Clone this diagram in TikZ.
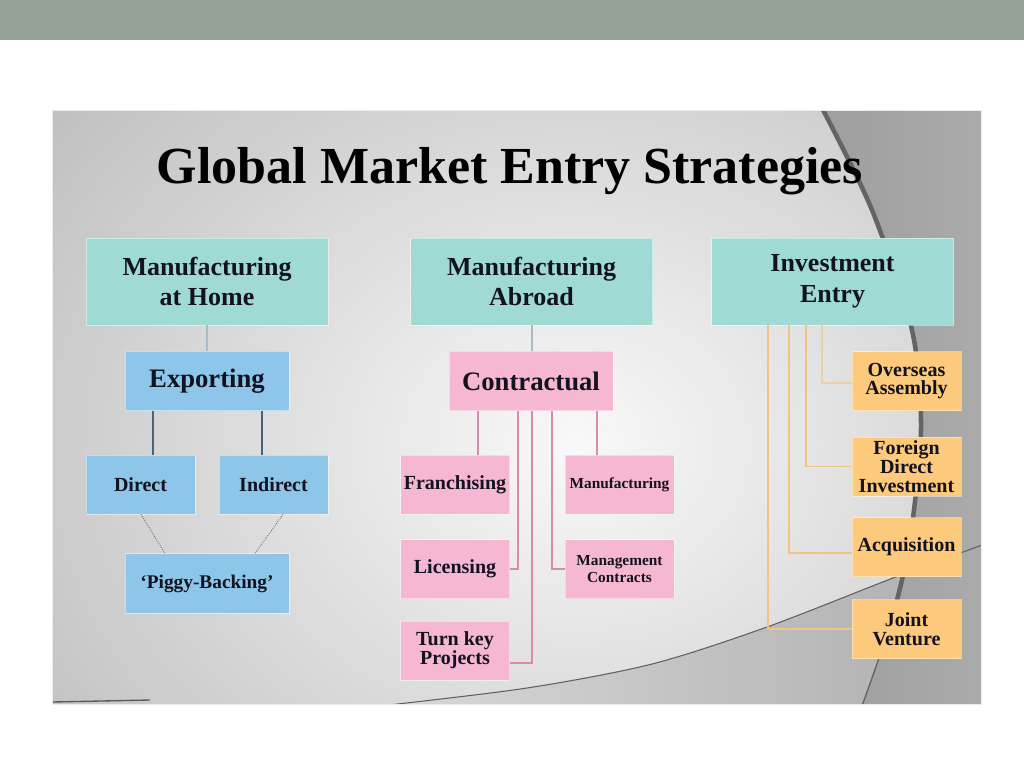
\documentclass[tikz,border=0pt]{standalone}
\usepackage{fontspec}
\setmainfont{Liberation Serif}
\definecolor{band}{RGB}{147,161,151}
\definecolor{teal1}{RGB}{160,218,212}
\definecolor{blue1}{RGB}{141,198,232}
\definecolor{pink1}{RGB}{246,183,210}
\definecolor{orange1}{RGB}{253,201,124}
\definecolor{txt}{RGB}{18,18,32}
\definecolor{swoosh}{RGB}{100,100,100}
\begin{document}
\begin{tikzpicture}[x=0.75pt,y=-0.75pt,
  base/.style={rectangle, inner sep=0pt, align=center, text=txt, draw=white, draw opacity=0.45, line width=0.6pt},
  bigbox/.style={base, fill=teal1, minimum width=181.5pt, minimum height=65.25pt, font=\bfseries\fontsize{19.5}{23}\selectfont},
  midbox/.style={base, minimum width=123pt, minimum height=44.5pt, font=\bfseries\fontsize{20}{23}\selectfont},
  smallbox/.style={base, minimum width=81.75pt, minimum height=44.25pt, font=\bfseries\fontsize{15}{14}\selectfont},
  tinybox/.style={smallbox, font=\bfseries\fontsize{11.5}{12.5}\selectfont},
  tealline/.style={draw={rgb,255:red,165;green,190;blue,198}, line width=0.8pt},
  blueline/.style={draw={rgb,255:red,70;green,100;blue,130}, line width=0.8pt},
  dotline/.style={draw={rgb,255:red,90;green,90;blue,100}, line width=0.6pt, densely dotted},
  pinkline/.style={draw={rgb,255:red,215;green,140;blue,175}, line width=0.9pt},
  orangeline/.style={draw={rgb,255:red,240;green,196;blue,130}, line width=0.9pt}
]
\useasboundingbox (0,0) rectangle (1024,768);
\fill[white] (0,0) rectangle (1024,768);
\fill[band] (0,0) rectangle (1024,40);
% panel background
\begin{scope}
\clip (52,110) rectangle (981,704);
\fill[gray!64] (52,110) rectangle (981,704);
\shade[inner color=gray!5, outer color=gray!64] (575,445) ellipse [x radius=880, y radius=720];
\shade[left color=gray!30, right color=gray!64]
  plot[smooth] coordinates {(380,706) (527,688) (652,664) (767,627) (893,578) (985,544)}
  -- (985,706) -- cycle;
\shade[left color=gray!76, right color=gray!66]
  plot[smooth] coordinates {(822,108) (872,210) (912,330) (921,430) (910,540) (895,610) (862,706)}
  -- (985,706) -- (985,108) -- cycle;
\draw[swoosh, line width=3.4pt] plot[smooth] coordinates {(822,108) (872,210) (912,330) (921,430) (910,540) (897,600)};
\draw[swoosh, line width=1pt] plot[smooth] coordinates {(910,540) (895,610) (862,706)};
\draw[gray!75!black, line width=0.8pt] plot[smooth] coordinates {(380,706) (527,688) (652,664) (767,627) (893,578) (985,544)};
\draw[gray!70!black, line width=1pt] (52,702) -- (150,700);
\end{scope}
\draw[white!85!gray, line width=0.6pt] (52,110) rectangle (981,704);
% title
\node[anchor=base, font=\bfseries\fontsize{39}{44}\selectfont, text=black] (title) at (510,183) {Global Market Entry Strategies};
% top row
\node[bigbox] (mah) at (207,281.5) {Manufacturing\\at Home};
\node[bigbox] (mab) at (531.5,281.5) {Manufacturing\\Abroad};
\node[bigbox] (ie) at (832.5,281.5) {Investment\\Entry};
% exporting branch
\node[midbox, fill=blue1] (exp) at (207,381) {Exporting};
\node[smallbox, fill=blue1] (dir) at (140.5,484.5) {Direct};
\node[smallbox, fill=blue1] (ind) at (273.5,484.5) {Indirect};
\node[midbox, fill=blue1, font=\bfseries\fontsize{14.5}{16}\selectfont] (pig) at (207,583.5) {‘Piggy-Backing’};
% contractual branch
\node[midbox, fill=pink1] (con) at (531,381) {Contractual};
\node[smallbox, fill=pink1] (fra) at (455,484.5) {Franchising};
\node[tinybox, fill=pink1] (man) at (619.5,484.5) {Manufacturing};
\node[smallbox, fill=pink1] (lic) at (455,569) {Licensing};
\node[tinybox, fill=pink1] (mgt) at (619.5,569) {Management\\Contracts};
\node[smallbox, fill=pink1] (tk) at (455,650.5) {Turn key\\Projects};
% investment branch
\node[smallbox, fill=orange1] (ova) at (906.5,381) {Overseas\\Assembly};
\node[smallbox, fill=orange1] (fdi) at (906.5,466.5) {Foreign\\Direct\\Investment};
\node[smallbox, fill=orange1] (acq) at (906.5,547) {Acquisition};
\node[smallbox, fill=orange1] (jv) at (906.5,629) {Joint\\Venture};
% connectors
\draw[tealline] (mah.south) -- (exp.north);
\draw[blueline] (exp.south -| 153,0) -- (dir.north -| 153,0);
\draw[blueline] (exp.south -| 262,0) -- (ind.north -| 262,0);
\draw[dotline] (dir.south -| 141,0) -- (pig.north -| 165,0);
\draw[dotline] (ind.south -| 283,0) -- (pig.north -| 255,0);
\draw[tealline] (mab.south -| 532,0) -- (con.north -| 532,0);
\draw[pinkline] (con.south -| 478,0) -- (fra.north -| 478,0);
\draw[pinkline] (con.south -| 597,0) -- (man.north -| 597,0);
\draw[pinkline] (con.south -| 518,0) |- (lic.east);
\draw[pinkline] (con.south -| 532,0) |- ([yshift=-9.4pt]tk.east);
\draw[pinkline] (con.south -| 552,0) |- (mgt.west);
\draw[orangeline] (ie.south -| 768,0) |- (jv.west);
\draw[orangeline] (ie.south -| 789,0) |- ([yshift=-4.5pt]acq.west);
\draw[orangeline] (ie.south -| 806,0) |- (fdi.west);
\draw[orangeline, draw opacity=0.6] (ie.south -| 822,0) |- ([yshift=-1.5pt]ova.west);
\end{tikzpicture}
\end{document}
